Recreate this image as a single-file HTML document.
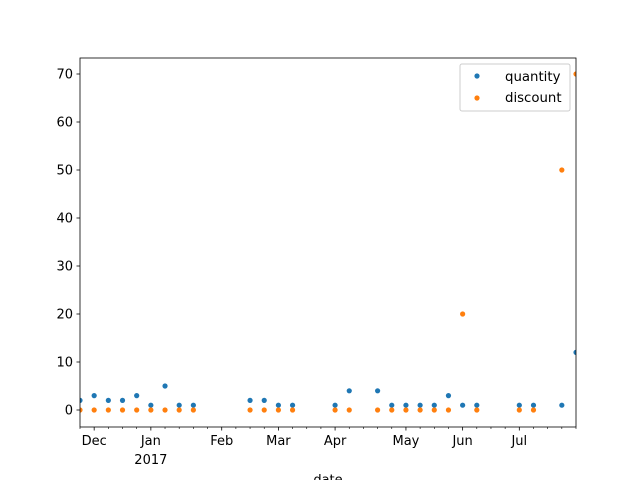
<!DOCTYPE html>
<html><head><meta charset="utf-8"><style>
body{margin:0;background:#fff}
svg{display:block;font-family:"DejaVu Sans","Liberation Sans",sans-serif}
</style></head><body>
<svg id="c" width="640" height="480">
<defs><clipPath id="clip"><rect x="80" y="58" width="496" height="369"/></clipPath></defs>
<rect x="80" y="58" width="496" height="369" fill="#fff"/>
<g id="ticks"></g>
<g id="pts" clip-path="url(#clip)"></g>
<rect x="80" y="58" width="496" height="369" fill="none" stroke="#000" stroke-width="0.8"/>
<text x="328" y="484" text-anchor="middle" font-size="13">date</text>
<g>
<rect x="460" y="64" width="110" height="47" fill="#fff" fill-opacity="0.8" stroke="#ccc" rx="2"/>
<circle cx="477" cy="76" r="2.6" fill="#1f77b4"/>
<text x="505" y="81" font-size="13.3">quantity</text>
<circle cx="477" cy="98" r="2.6" fill="#ff7f0e"/>
<text x="505" y="102" font-size="13.3">discount</text>
</g>
</svg>
<script>
const weeks=[0,1,2,3,4,5,6,7,8,12,13,14,15,18,19,21,22,23,24,25,26,27,28,31,32,34,35];
const quantity=[2,3,2,2,3,1,5,1,1,2,2,1,1,1,4,4,1,1,1,1,3,1,1,1,1,1,12];
const discount=[0,0,0,0,0,0,0,0,0,0,0,0,0,0,0,0,0,0,0,0,0,20,0,0,0,50,70];
const yTicks=[0,10,20,30,40,50,60,70];
const monthLabels=["Dec","Jan","Feb","Mar","Apr","May","Jun","Jul"];
const monthWeeks=[1,5,10,14,18,23,27,31];
const X=w=>80+w*(496/35);
const Y=v=>410-v*4.8;
const NS="http://www.w3.org/2000/svg";
const tk=document.getElementById('ticks'),pg=document.getElementById('pts');
function mk(p,tag,a){const e=document.createElementNS(NS,tag);for(const k in a)e.setAttribute(k,a[k]);p.appendChild(e);return e;}
yTicks.forEach(v=>{
 const l=mk(tk,'line',{x1:76.5,x2:80,y1:Y(v),y2:Y(v),stroke:'#000','stroke-width':0.8});
 
 
 const t=mk(tk,'text',{x:73,y:Y(v)+4.5,'text-anchor':'end','font-size':13});
 t.textContent=v;
 
 
});
for(let w=0;w<=35;w++){
 const maj=monthWeeks.includes(w);
 const l=mk(tk,'line',{x1:X(w),x2:X(w),y1:427,y2:427+(maj?3.5:2),stroke:'#000','stroke-width':maj?0.8:0.6});
 
 
}
monthLabels.forEach((m,i)=>{
 const t=mk(tk,'text',{x:X(monthWeeks[i]),y:445,'text-anchor':'middle','font-size':13});
 t.textContent=m;
 
 
});
const yr=mk(tk,'text',{x:X(5),y:464,'text-anchor':'middle','font-size':13});
yr.textContent="2017";


weeks.forEach((w,i)=>{
 const a=mk(pg,'circle',{cx:X(w),cy:Y(quantity[i]),r:2.6,fill:'#1f77b4'});
 
 
});
weeks.forEach((w,i)=>{
 const b=mk(pg,'circle',{cx:X(w),cy:Y(discount[i]),r:2.6,fill:'#ff7f0e'});
 
 
});
</script>
</body></html>
